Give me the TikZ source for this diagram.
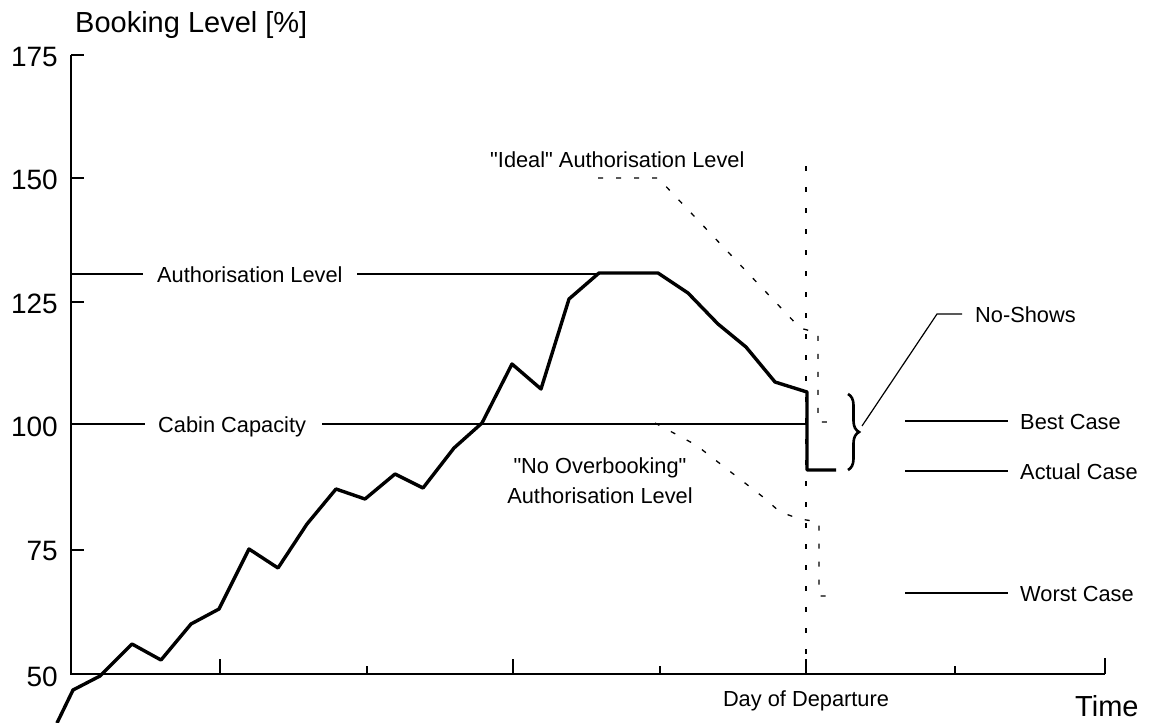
\documentclass[tikz,border=0pt]{standalone}
\usepackage{fontspec}
\setmainfont{Liberation Sans}[Ligatures=TeXOff]
\usetikzlibrary{decorations.pathreplacing}
\begin{document}
\begin{tikzpicture}[x=1pt,y=-1pt,
  thinline/.style={line width=1.2pt},
  axisline/.style={line width=1.8pt},
  booking/.style={line width=3.4pt, line join=round},
  authdash/.style={line width=1.3pt, dash pattern=on 5pt off 13pt},
  depdash/.style={line width=1.3pt, dash pattern=on 5pt off 16pt},
  lbl/.style={font=\fontsize{21.8}{24}\selectfont, inner sep=0pt},
  num/.style={font=\fontsize{28}{30}\selectfont, inner sep=0pt, anchor=east},
  big/.style={font=\fontsize{29}{32}\selectfont, inner sep=0pt},
]
\useasboundingbox (0,0) rectangle (1149,723);
\fill[white] (0,0) rectangle (1149,723);

% axes
\coordinate (O) at (71,674);
\coordinate (ytop) at (71,55);
\coordinate (xend) at (1105,674);
\draw[axisline] (ytop) -- (O) -- (xend);
\draw[axisline] (xend) -- ++(0,-16);
\foreach \y in {55,178,302,550} \draw[thinline] (71,\y) -- (84,\y);
\foreach \x in {220,513,806} \draw[thinline] (\x,674) -- (\x,659);
\foreach \x in {367,660,955} \draw[thinline] (\x,674) -- (\x,666);

% axis labels
\node[big, anchor=base west] (ylab) at (75,32) {Booking Level [\%]};
\node[num] (n175) at (58,57) {175};
\node[num] (n150) at (58,180) {150};
\node[num] (n125) at (58,304) {125};
\node[num] (n100) at (58,427) {100};
\node[num] (n75) at (58,551) {75};
\node[num] (n50) at (58,677) {50};
\node[lbl, anchor=base] (dep) at (806,706) {Day of Departure};
\node[big, anchor=base west] (time) at (1075,716) {Time};

% authorisation level
\node[lbl, anchor=base west] (auth) at (157,282) {Authorisation Level};
\coordinate (authA) at (71,274);
\coordinate (authB) at (143,274);
\coordinate (authC) at (357,274);
\coordinate (authD) at (600,274);
\draw[thinline] (authA) -- (authB);
\draw[thinline] (authC) -- (authD);

% cabin capacity
\node[lbl, anchor=base west] (cabin) at (158,432) {Cabin Capacity};
\coordinate (capA) at (71,424);
\coordinate (capB) at (145,424);
\coordinate (capC) at (322,424);
\coordinate (capD) at (806,424);
\draw[thinline] (capA) -- (capB);
\draw[thinline] (capC) -- (capD);

% day of departure line
\coordinate (depTop) at (806,166);
\draw[depdash] (depTop) -- (O -| depTop);

% ideal authorisation level
\node[lbl, anchor=base west] (ideal) at (490,167) {"Ideal" Authorisation Level};
\draw[authdash] (598,178) -- (658,178) -- (800,328) -- (818,333) -- (818,422) -- (834,422);

% no overbooking authorisation level
\node[lbl, anchor=base] (noov1) at (600,473) {"No Overbooking"};
\node[lbl, anchor=base] (noov2) at (600,503) {Authorisation Level};
\draw[authdash] (655,423) -- (696,445) -- (763,497) -- (780,512) -- (800,519) -- (819,522) -- (819,596) -- (834,596);

% booking curve
\draw[booking] (57,723) -- (73,690) -- (100,676) -- (132,644) -- (161,660) -- (191,624)
  -- (219,609) -- (249,549) -- (278,568) -- (307,524) -- (336,489) -- (365,499)
  -- (395,474) -- (423,488) -- (454,448) -- (482,423) -- (512,364) -- (541,389)
  -- (569,299) -- (599,273) -- (658,273) -- (688,293) -- (718,324) -- (746,347)
  -- (775,382) -- (807,392) -- (807,470) -- (836,470);

% brace and no-shows
\draw[line width=2.6pt, decorate, decoration={brace, amplitude=11pt}] (848,394) -- (848,470);
\node[lbl, anchor=base west] (noshow) at (975,322) {No-Shows};
\coordinate (nsA) at (862,426);
\coordinate (nsB) at (937,314);
\coordinate (nsC) at (962,314);
\draw[thinline] (nsA) -- (nsB) -- (nsC);

% cases
\node[lbl, anchor=base west] (best) at (1020,429) {Best Case};
\node[lbl, anchor=base west] (actual) at (1020,479) {Actual Case};
\node[lbl, anchor=base west] (worst) at (1020,601) {Worst Case};
\draw[thinline] (905,421) -- (1008,421);
\draw[thinline] (905,471) -- (1008,471);
\draw[thinline] (905,593) -- (1008,593);
\end{tikzpicture}
\end{document}
